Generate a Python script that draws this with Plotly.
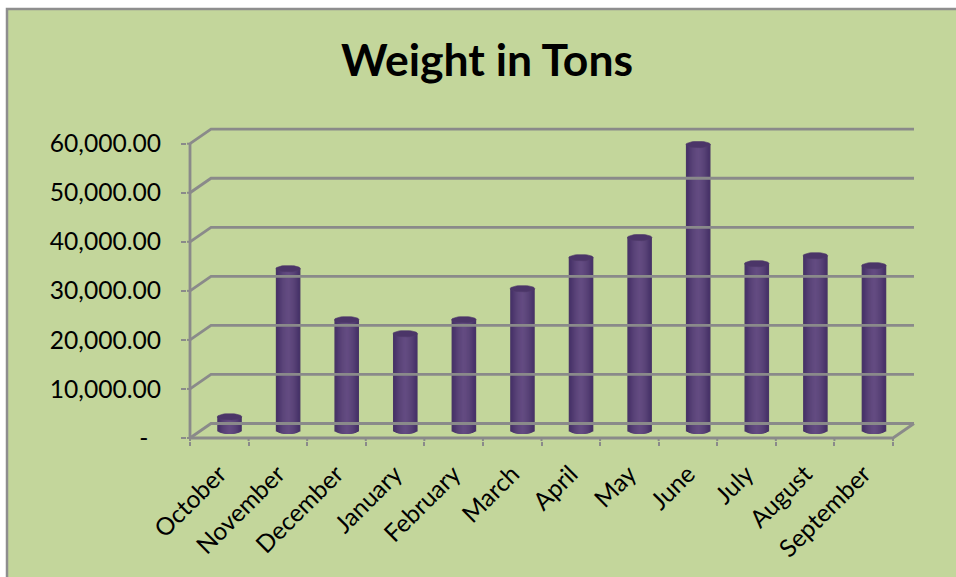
import math
import plotly.graph_objects as go

months = ["October", "November", "December", "January", "February", "March",
          "April", "May", "June", "July", "August", "September"]
weights = [2850, 33060, 22650, 19800, 22650, 28980, 35300, 39400, 58370, 34080, 35700, 33670]
y_ticks = [0, 10000, 20000, 30000, 40000, 50000, 60000]
y_labels = ["-\u00a0\u00a0", "10,000.00", "20,000.00", "30,000.00", "40,000.00", "50,000.00", "60,000.00"]

BG = "#C3D69B"
GREY = "#8A8A8A"
W, H = 956, 577
# pixel frame of the drawn walls
X0_PX, Y0_PX = 190, 437.7
CAT_PX = 703 / 12
VAL_PX = 49 / 10000
# plot area is slightly larger than the walls so their lines are not clipped
PAD = 3
PX_L, PX_R, PX_T, PX_B = X0_PX - PAD, 918, 125, Y0_PX + PAD
x_per_px = 1 / CAT_PX
y_per_px = 1 / VAL_PX
depth_x = 21 * x_per_px
depth_y = 14.5 * y_per_px
x_low = -0.5 - PAD * x_per_px
x_high = -0.5 + (PX_R - X0_PX) * x_per_px
y_low = -PAD * y_per_px
y_high = (Y0_PX - PX_T) * y_per_px
x_back = 11.5 + depth_x

bar_x = [i + 0.175 for i in range(len(months))]
base = 7.2 * y_per_px
rx = 12.3 * x_per_px
ry = 3.2 * y_per_px

# shades go from the rim to the centre of the cylinder
shades = ["#493665", "#48336A", "#4B366C", "#4F396F", "#533D72", "#564075",
          "#594378", "#5C457A", "#5E477C", "#60497E", "#624A80", "#634B81"]

fig = go.Figure()

# walls: gridlines on back wall, plus floor and front axes
gx, gy = [], []
for v in y_ticks:
    gx += [-0.5, -0.5 + depth_x, x_back, None]
    gy += [v, v + depth_y, v + depth_y, None]
gx += [-0.5, -0.5, None, -0.5, 11.5, x_back, None]
gy += [0, 60000, None, 0, 0, depth_y, None]
fig.add_trace(go.Scatter(x=gx, y=gy, mode="lines", line=dict(color=GREY, width=2.8),
                         hoverinfo="skip", showlegend=False))

# inner stubs joining the outside tick marks to the axes
sx, sy = [], []
for v in y_ticks:
    sx += [x_low, -0.5, None]
    sy += [v, v, None]
for i in range(len(months) + 1):
    sx += [i - 0.5, i - 0.5, None]
    sy += [y_low, 0, None]
fig.add_trace(go.Scatter(x=sx, y=sy, mode="lines", line=dict(color=GREY, width=2),
                         hoverinfo="skip", showlegend=False))

# cylinders as nested bars
n = len(shades)
for k, shade in enumerate(shades):
    t = 1 - k / n
    drop = ry * math.sqrt(max(0, 1 - t * t)) + (0.6 * y_per_px if k == 0 else 0)
    fig.add_trace(go.Bar(
        x=bar_x,
        y=[w + drop for w in weights],
        base=[base - drop] * len(weights),
        width=2 * rx * t,
        marker=dict(color=shade, line=dict(width=0)),
        hoverinfo="skip", showlegend=False))

# cylinder caps
cap_x, cap_y = [], []
for cx, w in zip(bar_x, weights):
    for d in range(0, 361, 10):
        a = math.radians(d)
        cap_x.append(cx + rx * math.cos(a))
        cap_y.append(w + base + ry * math.sin(a))
    cap_x.append(None)
    cap_y.append(None)
fig.add_trace(go.Scatter(x=cap_x, y=cap_y, mode="lines", fill="toself",
                         fillcolor="#4B3568", line=dict(color="#4F3A69", width=0.6),
                         hoverinfo="skip", showlegend=False))

font = dict(family="Lato, Carlito, Calibri, sans-serif", color="#000000")
pw, ph = PX_R - PX_L, PX_B - PX_T
fig.update_layout(
    width=W, height=H,
    margin=dict(l=PX_L, r=W - PX_R, t=PX_T, b=H - PX_B, pad=0),
    paper_bgcolor="white", plot_bgcolor="rgba(0,0,0,0)",
    barmode="overlay", showlegend=False,
    title=dict(text="<b>Weight in Tons</b>", x=487 / W, xanchor="center",
               y=1 - 60 / H, yanchor="middle",
               font=dict(size=44.5, **font)),
    xaxis=dict(range=[x_low, x_high], showgrid=False, zeroline=False, showline=False,
               tickmode="array", tickvals=list(range(len(months))), ticktext=months,
               tickangle=-45, ticks="outside", ticklen=4, tickcolor="rgba(0,0,0,0)",
               ticklabelstandoff=4, tickfont=dict(size=24.5, **font),
               minor=dict(tickmode="array", tickvals=[i - 0.5 for i in range(len(months) + 1)],
                          ticks="outside", ticklen=4, tickwidth=2, tickcolor=GREY, showgrid=False)),
    yaxis=dict(range=[y_low, y_high], showgrid=False, zeroline=False, showline=False,
               tickmode="array", tickvals=y_ticks, ticktext=y_labels,
               ticks="outside", ticklen=5, tickwidth=2, tickcolor=GREY,
               ticklabelstandoff=15, tickfont=dict(size=24.6, **font)),
    shapes=[dict(type="rect", layer="below", xref="paper", yref="paper",
                 x0=(7 - PX_L) / pw, x1=(W + 5 - PX_L) / pw,
                 y0=(PX_B - H - 5) / ph, y1=(PX_B - 9) / ph,
                 fillcolor=BG, line=dict(color="#8E8E8E", width=2.5))],
)

fig.write_html("out.html", config=dict(displayModeBar=False),
               post_script="document.body.style.margin='0';document.body.style.overflow='hidden';")
